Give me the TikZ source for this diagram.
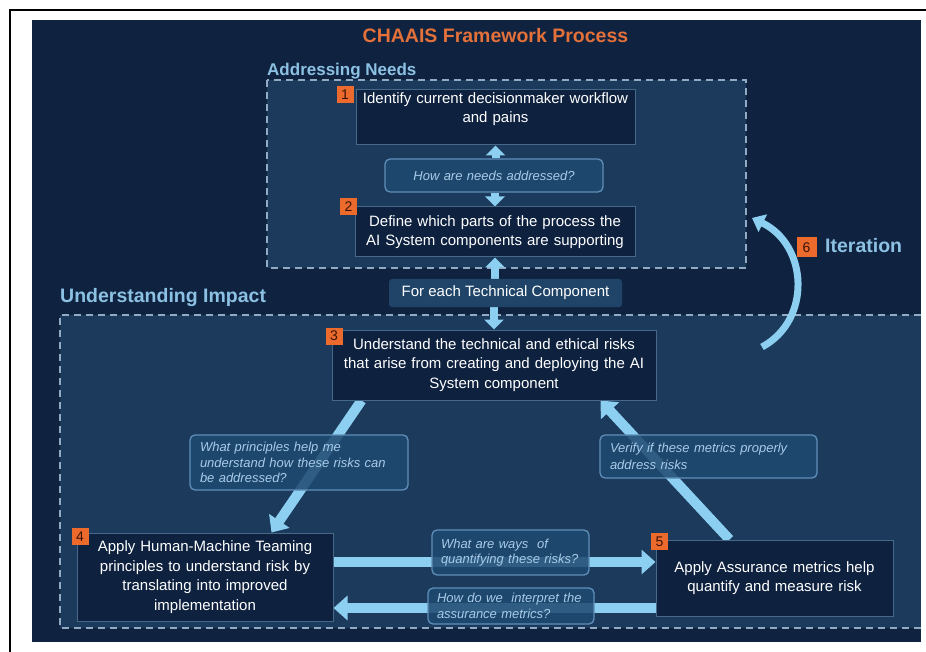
\documentclass[tikz,border=0pt]{standalone}
\usepackage{fontspec}
\setmainfont{Liberation Sans}
\usetikzlibrary{arrows.meta,calc}

\definecolor{panel}{HTML}{0F2340}
\definecolor{area}{HTML}{1B3A5C}
\definecolor{boxfill}{HTML}{0E2240}
\definecolor{boxline}{HTML}{46698A}
\definecolor{dashline}{HTML}{93ABC2}
\definecolor{qfill}{HTML}{1F4A71}
\definecolor{qline}{HTML}{5F8FB8}
\definecolor{qtext}{HTML}{A8CBE8}
\definecolor{flow}{HTML}{8DCFF1}
\definecolor{accent}{HTML}{E4703A}
\definecolor{badgefill}{HTML}{EC6A2C}
\definecolor{badgetext}{HTML}{3A1408}
\definecolor{headtext}{HTML}{8CC1E4}
\definecolor{chip}{HTML}{1F4468}

\pgfdeclarelayer{back}
\pgfdeclarelayer{flows}
\pgfsetlayers{back,flows,main}

\tikzset{
  stepbox/.style={draw=boxline, line width=1pt, fill=boxfill, text=white,
    inner xsep=5pt, inner ysep=0pt, align=center,
    font=\fontsize{15}{19.5}\selectfont},
  askbox/.style={draw=qline, line width=1.3pt, fill=qfill, fill opacity=0.86,
    text opacity=1, rounded corners=5pt, text=qtext, inner xsep=10pt,
    inner ysep=0pt, align=left, font=\fontsize{13}{15.5}\selectfont\itshape},
  chipbox/.style={fill=chip, rounded corners=3pt, text=white, inner sep=0pt,
    font=\fontsize{15}{18}\selectfont},
  badge/.style={fill=badgefill, minimum size=17pt, inner sep=0pt,
    text=badgetext, font=\fontsize{14}{14}\selectfont},
  sectionhead/.style={text=headtext, inner sep=0pt, anchor=base west,
    font=\fontsize{17}{20}\selectfont\bfseries},
  zoneline/.style={draw=dashline, line width=1.5pt, dash pattern=on 7pt off 5pt},
  thinflow/.style={draw=flow, line width=8pt, -{Triangle[width=19pt,length=10pt]}},
  wideflow/.style={draw=flow, line width=10pt, -{Triangle[width=24pt,length=14pt]}},
  loopflow/.style={draw=flow, line width=7pt, -{Triangle[width=19pt,length=12pt]}},
}

\begin{document}
\begin{tikzpicture}[x=1pt, y=-1pt]
\useasboundingbox (0,0) rectangle (926,652);

% title and section headings
\node[text=accent, inner sep=0pt, anchor=base,
  font=\fontsize{19.5}{22}\selectfont\bfseries] (title) at (495.5,43)
  {CHAAIS Framework Process};
\node[sectionhead] (needsHead) at (267,76) {Addressing Needs};
\node[sectionhead, font=\fontsize{19.5}{22}\selectfont\bfseries] (impactHead)
  at (60,302) {Understanding Impact};

% process steps
\node[stepbox, text width=269pt, minimum height=55pt] (step1) at (495.5,117.5)
  {Identify current decisionmaker workflow\\and pains\\\mbox{}};
\node[stepbox, text width=270pt, minimum height=50pt] (step2) at (495,232)
  {Define which parts of the process the\\AI System components are supporting};
\node[stepbox, text width=314pt, minimum height=70pt] (step3) at (494,365)
  {Understand the technical and ethical risks\\that arise from creating and deploying the AI\\System component};
\node[stepbox, text width=246pt, minimum height=88pt] (step4) at (205,577)
  {Apply Human-Machine Teaming\\principles to understand risk by\\translating into improved\\implementation};
\node[stepbox, text width=227pt, minimum height=76pt] (step5) at (774.5,578)
  {Apply Assurance metrics help\\quantify and measure risk};

% guiding questions
\node[askbox, align=center, text width=198pt, minimum height=33pt] (qNeeds)
  at (494,175.5) {How are needs addressed?};
\node[chipbox, minimum width=233pt, minimum height=28pt] (forEach)
  at (505.5,293) {For each Technical Component};
\node[askbox, text width=198pt, minimum height=55pt] (qPrinciples) at (299,462.5)
  {What principles help me\\understand how these risks can\\be addressed?};
\node[askbox, text width=197pt, minimum height=43pt,
  font=\fontsize{13}{16.5}\selectfont\itshape] (qVerify) at (708.5,456.5)
  {Verify if these metrics properly\\address risks};
\node[askbox, text width=139pt, minimum height=45pt, inner xsep=9pt] (qQuantify)
  at (510.5,552.5) {What are ways \ of\\quantifying these risks?};
\node[askbox, text width=148pt, minimum height=36pt, inner xsep=9pt] (qInterpret)
  at (511,606) {How do we \ interpret the\\assurance metrics?};

% step numbers
\node[badge] (b1) at (345,95) {1};
\node[badge] (b2) at (348.5,206.5) {2};
\node[badge] (b3) at (334,336) {3};
\node[badge] (b4) at (80,536.5) {4};
\node[badge] (b5) at (659.5,541.5) {5};
\node[badge, minimum size=20pt] (b6) at (806.5,247.5) {6};
\node[sectionhead, font=\fontsize{19.5}{22}\selectfont\bfseries] (iterText)
  at (825,253) {Iteration};

% connectors
\coordinate (iterTail) at (762,347);
\coordinate (iterHead) at (752,218);
\begin{pgfonlayer}{flows}
  \draw[thinflow] (step1.south |- qNeeds.north) -- (step1.south);
  \draw[thinflow] (step2.north |- qNeeds.south) -- (step2.north);
  \draw[thinflow] (step2.south |- forEach.north) -- (step2.south);
  \draw[thinflow] (step3.north |- forEach.south) -- (step3.north);
  \draw[wideflow] ([xshift=30pt]step3.south west) -- ([xshift=195pt]step4.north west);
  \draw[wideflow] ([xshift=74pt]step5.north west) -- ([xshift=-56pt]step3.south east);
  \draw[wideflow] ([yshift=15pt]step4.east) -- ([yshift=16pt]step5.west);
  \draw[wideflow] ([yshift=-30pt]step5.west) -- ([yshift=-31pt]step4.east);
  \draw[loopflow] (iterTail) .. controls (812,320) and (808,245) .. (iterHead);
\end{pgfonlayer}

% page frame, panel and dashed zones
\begin{pgfonlayer}{back}
  \draw[black, line width=1.5pt] (10,652) -- (10,10) -- (926,10);
  \fill[panel] (32,20) rectangle (921,642);
  \fill[area] (267,80) rectangle (746,268);
  \draw[zoneline] (267,80) rectangle (746,268);
  \fill[area] (60,315) rectangle (921,628);
  \draw[zoneline] (921,315) -- (60,315) -- (60,628) -- (921,628);
\end{pgfonlayer}
\end{tikzpicture}
\end{document}
